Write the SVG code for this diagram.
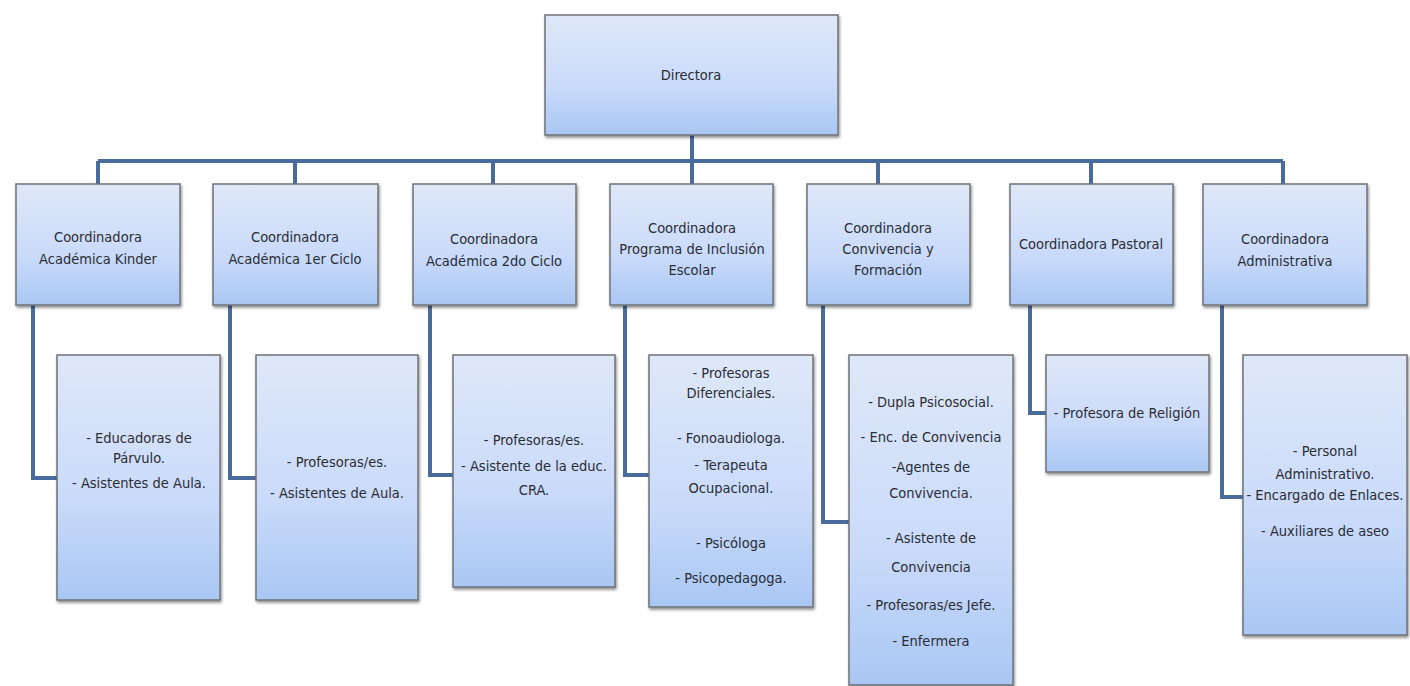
<svg xmlns="http://www.w3.org/2000/svg" width="1410" height="686" viewBox="0 0 1410 686">
<defs>
<linearGradient id="g" x1="0" y1="0" x2="0" y2="1">
<stop offset="0" stop-color="#dfe8f8"/>
<stop offset="0.6" stop-color="#c9dafa"/>
<stop offset="1" stop-color="#a9c7f3"/>
</linearGradient>
<filter id="sh" x="-10%" y="-10%" width="130%" height="130%">
<feDropShadow dx="1" dy="2" stdDeviation="1.5" flood-color="#000" flood-opacity="0.45"/>
</filter>
</defs>
<style>
.b{fill:url(#g);stroke:#6f7378;stroke-width:1.5;filter:url(#sh)}
.t{font-family:"Liberation Sans Narrow","DejaVu Sans Condensed","Liberation Sans",sans-serif;font-stretch:condensed;font-size:14.5px;fill:#2a2d34;text-anchor:middle}
.c{fill:none;stroke:#4a6c9c;stroke-width:4}
</style>
<rect width="1410" height="686" fill="#fff"/>
<g id="connectors">
<path class="c" d="M692 135V184M98 161H1283M98 161V184M295 161V184M493 161V184M692 161V184M878 161V184M1091 161V184M1283 161V184"/>
<path class="c" d="M33 305V478H57"/>
<path class="c" d="M230 305V478H256"/>
<path class="c" d="M430 305V475H453"/>
<path class="c" d="M625 305V475H649"/>
<path class="c" d="M823 305V522H849"/>
<path class="c" d="M1030 305V413H1046"/>
<path class="c" d="M1222 305V497H1243"/>
</g>
<g id="directora"><rect class="b" x="545" y="15" width="293" height="120"/><text class="t" x="691" y="80">Directora</text></g>
<g id="coord-kinder"><rect class="b" x="16" y="184" width="164" height="121"/><text class="t" x="98" y="242">Coordinadora</text><text class="t" x="98" y="264">Académica Kinder</text></g>
<g id="coord-1er"><rect class="b" x="213" y="184" width="165" height="121"/><text class="t" x="295" y="242">Coordinadora</text><text class="t" x="295" y="264">Académica 1er Ciclo</text></g>
<g id="coord-2do"><rect class="b" x="413" y="184" width="163" height="121"/><text class="t" x="494" y="244">Coordinadora</text><text class="t" x="494" y="266">Académica 2do Ciclo</text></g>
<g id="coord-pie"><rect class="b" x="610" y="184" width="163" height="121"/><text class="t" x="692" y="233">Coordinadora</text><text class="t" x="692" y="254">Programa de Inclusión</text><text class="t" x="692" y="275">Escolar</text></g>
<g id="coord-conv"><rect class="b" x="807" y="184" width="163" height="121"/><text class="t" x="888" y="233">Coordinadora</text><text class="t" x="888" y="254">Convivencia y</text><text class="t" x="888" y="275">Formación</text></g>
<g id="coord-pastoral"><rect class="b" x="1010" y="184" width="163" height="121"/><text class="t" x="1091" y="249">Coordinadora Pastoral</text></g>
<g id="coord-admin"><rect class="b" x="1203" y="184" width="164" height="121"/><text class="t" x="1285" y="244">Coordinadora</text><text class="t" x="1285" y="266">Administrativa</text></g>
<g id="sub-kinder"><rect class="b" x="57" y="355" width="163" height="245"/><text class="t" x="139" y="443">- Educadoras de</text><text class="t" x="139" y="463">Párvulo.</text><text class="t" x="139" y="488">- Asistentes de Aula.</text></g>
<g id="sub-1er"><rect class="b" x="256" y="355" width="162" height="245"/><text class="t" x="337" y="467">- Profesoras/es.</text><text class="t" x="337" y="498">- Asistentes de Aula.</text></g>
<g id="sub-2do"><rect class="b" x="453" y="355" width="162" height="232"/><text class="t" x="534" y="445">- Profesoras/es.</text><text class="t" x="534" y="471">- Asistente de la educ.</text><text class="t" x="534" y="495">CRA.</text></g>
<g id="sub-pie"><rect class="b" x="649" y="355" width="164" height="252"/><text class="t" x="731" y="378">- Profesoras</text><text class="t" x="731" y="398">Diferenciales.</text><text class="t" x="731" y="443">- Fonoaudiologa.</text><text class="t" x="731" y="470">- Terapeuta</text><text class="t" x="731" y="493">Ocupacional.</text><text class="t" x="731" y="548">- Psicóloga</text><text class="t" x="731" y="583">- Psicopedagoga.</text></g>
<g id="sub-conv"><rect class="b" x="849" y="355" width="164" height="330"/><text class="t" x="931" y="407">- Dupla Psicosocial.</text><text class="t" x="931" y="442">- Enc. de Convivencia</text><text class="t" x="931" y="472">-Agentes de</text><text class="t" x="931" y="498">Convivencia.</text><text class="t" x="931" y="543">- Asistente de</text><text class="t" x="931" y="572">Convivencia</text><text class="t" x="931" y="610">- Profesoras/es Jefe.</text><text class="t" x="931" y="646">- Enfermera</text></g>
<g id="sub-pastoral"><rect class="b" x="1046" y="355" width="163" height="117"/><text class="t" x="1127" y="418">- Profesora de Religión</text></g>
<g id="sub-admin"><rect class="b" x="1243" y="355" width="164" height="280"/><text class="t" x="1325" y="456">- Personal</text><text class="t" x="1325" y="479">Administrativo.</text><text class="t" x="1325" y="500">- Encargado de Enlaces.</text><text class="t" x="1325" y="536">- Auxiliares de aseo</text></g>
</svg>
